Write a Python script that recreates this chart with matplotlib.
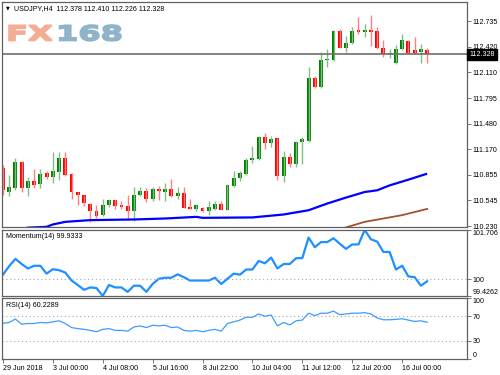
import numpy as np
import matplotlib
matplotlib.use("Agg")
import matplotlib.pyplot as plt
from matplotlib import font_manager
from matplotlib.font_manager import FontProperties
from matplotlib.textpath import TextPath
from matplotlib.patches import PathPatch
from matplotlib.transforms import Affine2D, blended_transform_factory

# USDJPY H4 bars
opens = [110.938, 110.646, 110.695, 111.019, 110.695, 110.776, 110.743, 110.873, 110.828, 110.889,
         111.060, 110.870, 110.646, 110.606, 110.505, 110.411, 110.363, 110.484, 110.545, 110.484,
         110.476, 110.411, 110.614, 110.654, 110.557, 110.679, 110.646, 110.687, 110.597, 110.639,
         110.463, 110.444, 110.451, 110.415, 110.444, 110.496, 110.432, 110.719, 110.816, 110.870,
         111.040, 111.052, 111.315, 111.242, 111.308, 110.837, 111.072, 110.983, 111.254, 111.275,
         112.038, 111.932, 112.257, 112.257, 112.613, 112.410, 112.463, 112.622, 112.605, 112.622,
         112.613, 112.410, 112.330, 112.220, 112.398, 112.491, 112.378, 112.361, 112.378]
highs = [110.971, 110.849, 111.060, 111.030, 110.828, 110.922, 110.922, 110.906, 111.133, 111.133,
         111.133, 110.875, 110.650, 110.610, 110.517, 110.484, 110.566, 110.566, 110.566, 110.533,
         110.614, 110.707, 110.707, 110.695, 110.707, 110.719, 110.760, 110.800, 110.707, 110.707,
         110.557, 110.505, 110.463, 110.533, 110.536, 110.536, 110.740, 110.901, 110.901, 111.060,
         111.214, 111.330, 111.364, 111.336, 111.310, 111.153, 111.120, 111.266, 111.315, 112.175,
         112.066, 112.358, 112.390, 112.622, 112.634, 112.552, 112.662, 112.783, 112.695, 112.808,
         112.662, 112.500, 112.390, 112.443, 112.573, 112.500, 112.544, 112.451, 112.410]
lows = [110.606, 110.597, 110.667, 110.646, 110.597, 110.695, 110.695, 110.809, 110.760, 110.792,
        110.837, 110.557, 110.493, 110.476, 110.274, 110.330, 110.354, 110.463, 110.436, 110.436,
        110.302, 110.290, 110.597, 110.524, 110.533, 110.545, 110.533, 110.585, 110.557, 110.445,
        110.436, 110.411, 110.403, 110.363, 110.423, 110.423, 110.423, 110.707, 110.776, 110.858,
        110.999, 111.040, 111.174, 111.193, 110.788, 110.768, 110.950, 110.950, 110.983, 111.254,
        111.916, 111.923, 112.175, 112.248, 112.403, 112.361, 112.459, 112.580, 112.540, 112.431,
        112.390, 112.297, 112.288, 112.208, 112.378, 112.337, 112.337, 112.227, 112.226]
closes = [110.667, 110.707, 111.019, 110.695, 110.776, 110.736, 110.870, 110.828, 110.898, 111.060,
          110.858, 110.646, 110.606, 110.517, 110.411, 110.354, 110.493, 110.545, 110.476, 110.463,
          110.411, 110.606, 110.654, 110.557, 110.679, 110.654, 110.687, 110.597, 110.639, 110.451,
          110.444, 110.484, 110.411, 110.463, 110.496, 110.432, 110.727, 110.816, 110.877, 111.040,
          111.060, 111.324, 111.242, 111.296, 110.841, 111.080, 110.991, 111.254, 111.296, 112.038,
          111.932, 112.260, 112.269, 112.613, 112.410, 112.471, 112.613, 112.601, 112.622, 112.609,
          112.410, 112.330, 112.345, 112.398, 112.500, 112.349, 112.349, 112.390, 112.328]

# moving averages (readings at some bars)
ma_blue_idx = [3, 4, 7, 8, 10, 14, 21, 26, 31, 32, 40, 45, 49, 52, 55, 58, 60, 62, 65, 68]
ma_blue = [110.190, 110.210, 110.220, 110.249, 110.281, 110.302, 110.310, 110.322, 110.342, 110.330,
           110.335, 110.371, 110.423, 110.505, 110.578, 110.646, 110.667, 110.727, 110.797, 110.870]
ma_brown_idx = [54, 55, 58, 64, 68]
ma_brown = [110.190, 110.213, 110.281, 110.363, 110.439]

momentum = [100.163, 100.459, 100.709, 100.531, 100.377, 100.470, 100.470, 100.199, 100.352, 100.317,
            100.235, 99.961, 99.807, 99.640, 99.722, 99.701, 99.426, 99.807, 99.722, 99.722,
            99.569, 99.782, 99.782, 99.569, 99.843, 100.021, 100.057, 100.057, 100.174, 100.078,
            99.961, 99.961, 99.961, 99.961, 100.057, 99.843, 100.021, 100.199, 100.163, 100.342,
            100.342, 100.637, 100.555, 100.755, 100.377, 100.531, 100.531, 100.733, 100.733, 101.446,
            101.111, 101.289, 101.289, 101.421, 101.232, 101.054, 101.207, 101.207, 101.706, 101.385,
            101.303, 100.947, 100.947, 100.342, 100.470, 100.103, 100.078, 99.782, 99.933]
rsi = [58.7, 59.9, 65.5, 57.0, 58.2, 58.2, 59.9, 59.2, 60.9, 62.6,
       58.2, 51.5, 49.8, 48.6, 46.9, 44.7, 48.6, 49.8, 46.9, 46.9,
       45.7, 52.5, 54.2, 51.5, 55.4, 54.2, 55.4, 51.5, 52.5, 46.9,
       45.7, 46.9, 44.7, 46.9, 48.6, 45.7, 58.2, 60.9, 63.8, 68.4,
       68.4, 73.9, 70.0, 72.2, 54.2, 59.9, 55.9, 62.6, 63.8, 75.1,
       71.1, 75.1, 75.1, 78.5, 72.7, 73.9, 75.1, 75.1, 76.0, 73.9,
       67.2, 64.3, 64.3, 65.0, 66.0, 63.8, 61.6, 62.6, 60.2289]

price_ticks = [110.230, 110.545, 110.855, 111.170, 111.480, 111.795, 112.110, 112.420, 112.735]
time_tick_idx = [0, 8, 16, 24, 32, 40, 48, 56, 64]
time_labels = ['29 Jun 2018', '3 Jul 00:00', '4 Jul 08:00', '5 Jul 16:00', '8 Jul 22:00',
               '10 Jul 04:00', '11 Jul 12:00', '12 Jul 20:00', '16 Jul 00:00']

installed = {f.name for f in font_manager.fontManager.ttflist}
if 'Liberation Sans' in installed:
    small = FontProperties(family='Liberation Sans', size=5.1)
else:
    small = FontProperties(family='DejaVu Sans', size=4.6)

frame = '#606060'


def style(a):
    for s in a.spines.values():
        s.set_color(frame)
        s.set_linewidth(0.9)
    a.yaxis.tick_right()
    a.tick_params(axis='y', direction='out', length=3, width=0.6, color=frame, pad=1.2)
    a.tick_params(axis='x', bottom=False, labelbottom=False)
    for lab in a.get_yticklabels():
        lab.set_fontproperties(small)


fig = plt.figure(figsize=(5, 3.75), dpi=100)
W, H = 500.0, 375.0
ax = fig.add_axes([2 / W, 1 - 227 / H, 465 / W, 225 / H])
axm = fig.add_axes([2 / W, 1 - 296 / H, 465 / W, 66 / H], sharex=ax)
axr = fig.add_axes([2 / W, 1 - 359 / H, 465 / W, 61 / H], sharex=ax)

# candles
o = np.array(opens)
h = np.array(highs)
l = np.array(lows)
c = np.array(closes)
x = np.arange(len(o))
up = c >= o
body_col = np.where(up, '#008000', '#ff0000')
wick_col = np.where(up, '#80c080', '#ff8080')
ax.vlines(x, l, h, colors=wick_col, lw=1)
ax.bar(x, np.maximum(np.abs(c - o), 0.012), bottom=np.minimum(o, c), width=0.62,
       color=body_col, linewidth=0)
ax.plot(ma_blue_idx, ma_blue, color='#0000ff', lw=1.6, solid_capstyle='butt')
ax.plot(ma_brown_idx, ma_brown, color='#a0522d', lw=1.3)
ax.axhline(c[-1], color='#6e6e6e', lw=1.2)

ax.set_xlim(-0.15, 74.4)
ax.set_ylim(110.218, 112.97)
ax.set_yticks(price_ticks)
ax.set_yticklabels([f'{v:.3f}' for v in price_ticks])
style(ax)

ax.text(1.005, c[-1], f'{c[-1]:.3f}', transform=blended_transform_factory(ax.transAxes, ax.transData),
        ha='left', va='center', color='white', fontproperties=small,
        bbox=dict(boxstyle='square,pad=0.3', fc='black', ec='black'))
ax.text(0.0258, 0.972, 'USDJPY,H4  112.378 112.410 112.226 112.328', transform=ax.transAxes,
        ha='left', va='center', fontproperties=small, color='black')
ax.text(0.0075, 0.972, '\u25bc', transform=ax.transAxes, ha='left', va='center',
        fontsize=3.5, color='black')

# FX168 watermark
bold = FontProperties(family='DejaVu Sans', weight='bold')
tp_fx = TextPath((0, 0), 'FX', size=1, prop=bold)
fx_w = tp_fx.get_extents().x1 + 0.12
tp_num = TextPath((fx_w, 0), '168', size=1, prop=bold)
ext = tp_fx.get_extents()
sx = (121 - 9) / (tp_num.get_extents().x1 - ext.x0)
sy = 15.2 / ext.y1
tr = Affine2D().translate(-ext.x0, 0).scale(sx, sy).translate(9, H - 40.5)
fig.add_artist(PathPatch(tp_fx, transform=tr, fc='#f4ad95', ec='#f4ad95', lw=1.2))
fig.add_artist(PathPatch(tp_num, transform=tr, fc='#8fb3c9', ec='#8fb3c9', lw=1.2))

# momentum
axm.plot(x, momentum, color='#1e90ff', lw=1.6)
axm.axhline(100, color='#a8a8a8', lw=0.8, ls=(0, (1, 2.5)))
axm.set_ylim(99.4262, 101.706)
axm.set_yticks([99.4262, 100, 101.706])
axm.set_yticklabels(['99.4262', '100', '101.706'])
style(axm)
labs = axm.get_yticklabels()
labs[0].set_va('bottom')
labs[2].set_va('top')
axm.text(0.0086, 0.9, 'Momentum(14) 99.9333', transform=axm.transAxes, ha='left', va='center',
         fontproperties=small)

# RSI
axr.plot(x, rsi, color='#3c9cff', lw=0.9)
for lvl in (30, 70):
    axr.axhline(lvl, color='#a8a8a8', lw=0.8, ls=(0, (1, 2.5)))
axr.set_ylim(0, 100)
axr.set_yticks([0, 30, 70, 100])
axr.set_yticklabels(['0', '30', '70', '100'])
style(axr)
labs = axr.get_yticklabels()
labs[0].set_va('bottom')
labs[3].set_va('top')
axr.text(0.0086, 0.885, 'RSI(14) 60.2289', transform=axr.transAxes, ha='left', va='center',
         fontproperties=small)

axr.set_xticks(time_tick_idx)
axr.set_xticklabels(time_labels)
axr.tick_params(axis='x', bottom=True, labelbottom=True, direction='out', length=3, width=0.6,
                color=frame, pad=1.5)
for lab in axr.get_xticklabels():
    lab.set_fontproperties(small)
    lab.set_ha('left')

fig.savefig('out.png', dpi=100, facecolor='white')
